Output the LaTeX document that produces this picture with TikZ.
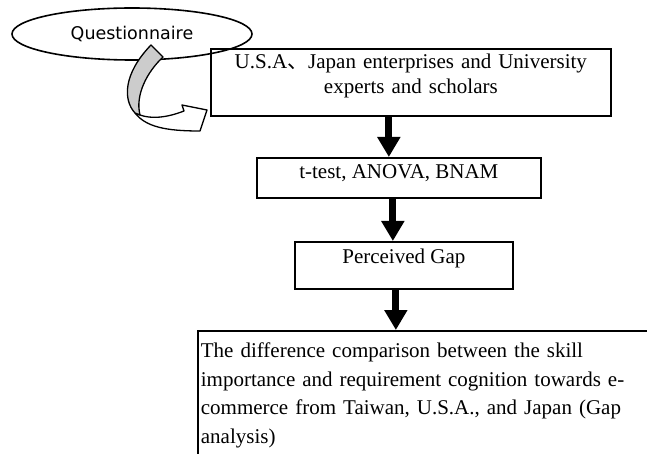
\documentclass[tikz,border=0pt]{standalone}
\usepackage{fontspec}
\setmainfont{Liberation Serif}
\newfontfamily\qfont{DejaVu Sans}
\newfontfamily\cjk{Noto Sans CJK SC}
\usetikzlibrary{shapes.geometric,arrows.meta}

\begin{document}
\begin{tikzpicture}[x=1pt,y=-1pt,
    box/.style={draw, line width=1.7pt, inner ysep=0pt, inner xsep=3pt,
      font=\fontsize{21}{25}\selectfont},
    flow/.style={line width=7pt, -{Triangle[length=20pt,width=22pt]}}]
  \clip (0,0) rectangle (647,454);

  % Questionnaire ellipse
  \node[ellipse, draw, line width=1.6pt, minimum width=240pt, minimum height=52pt,
    font=\qfont\fontsize{17.5}{20}\selectfont] (quest) at (132,34) {Questionnaire};

  % the boxes of the flow
  \node[box, anchor=north west, text width=394pt, align=center,
    text height=20pt, text depth=47pt] (usa) at (210,48)
    {U.S.A{\cjk 、}Japan enterprises and University\\experts and scholars};
  \node[box, anchor=north west, minimum width=284pt,
    text height=21pt, text depth=19pt] (ttest) at (256,157) {t-test, ANOVA, BNAM};
  \node[box, anchor=north west, minimum width=218pt,
    text height=22pt, text depth=25pt] (perc) at (294,241) {Perceived Gap};
  \node[box, anchor=north west, text width=494pt, align=left,
    font=\fontsize{21}{28.4}\selectfont,
    text height=27pt, text depth=200pt] (gap) at (197,330)
    {The difference comparison between the skill\\
     importance and requirement cognition towards e-\\
     commerce from Taiwan, U.S.A., and Japan (Gap\\
     analysis)};

  % curved arrow from the questionnaire to the experts (back part, then front part)
  \filldraw[fill=white, line width=1.3pt, line join=round]
    (135,113) .. controls (146,127) and (166,131) .. (200,131) -- (207,110)
    -- (182,105) -- (184,111) .. controls (166,118) and (151,119) .. (140,115) -- cycle;
  \filldraw[fill=black!20, line width=1.3pt, line join=round]
    (151,45) -- (163,57) .. controls (147,72) and (135,95) .. (140,115)
    -- (135,113) .. controls (123,100) and (123,74) .. cycle;

  % arrows between the boxes
  \draw[flow] ([xshift=-22pt]usa.south) -- ([xshift=-10pt]ttest.north);
  \draw[flow] ([xshift=-6pt]ttest.south) -- ([xshift=-11pt]perc.north);
  \draw[flow] ([xshift=-8pt]perc.south) -- ([xshift=-8pt]perc.south |- gap.north);
\end{tikzpicture}
\end{document}
